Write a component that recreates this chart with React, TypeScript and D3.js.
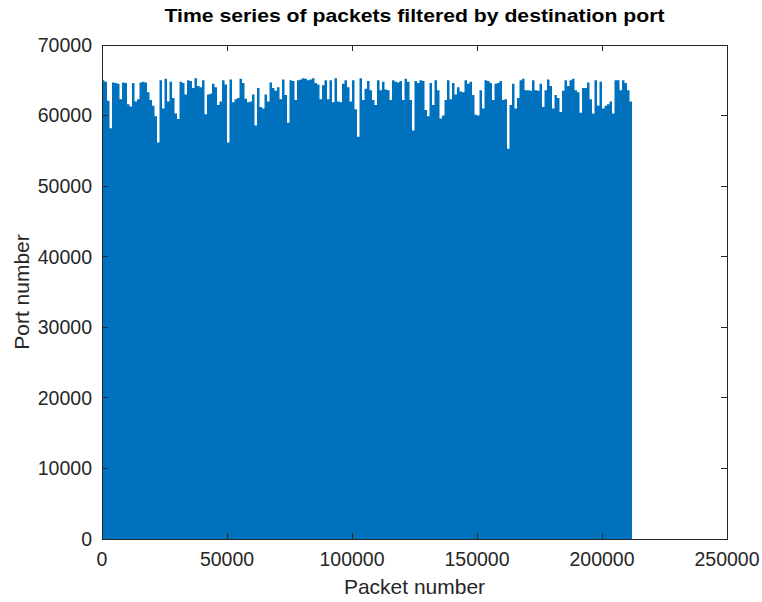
import React from "react";
import * as d3 from "d3";

// Packet bins: each entry is the highest destination port seen in a block of 1000 packets.
const binSize = 1000;
const binMaxPort: number[] = [
  65000, 64800, 62100, 58200, 64700, 64600, 64500, 62300, 64700, 64600,
  61600, 61300, 64600, 62000, 62300, 64700, 64800, 64700, 63300, 62200,
  61400, 59900, 56200, 65000, 61000, 65200, 62000, 64800, 62500, 60300,
  59500, 64800, 64600, 63000, 65000, 64900, 63900, 65300, 64200, 64000,
  65000, 60200, 63000, 63100, 64500, 64000, 61500, 62000, 65000, 64400,
  56200, 65100, 61900, 62300, 62500, 65200, 64600, 62400, 61900, 62000,
  63000, 58600, 63900, 61200, 61000, 63000, 62000, 64700, 63900, 63500,
  64000, 62300, 65100, 62900, 59000, 65000, 64900, 62200, 65000, 65100,
  65300, 65200, 65000, 65100, 65300, 64600, 64400, 62300, 64300, 65000,
  62300, 65000, 61900, 65300, 62000, 61900, 64500, 65000, 64000, 62000,
  65000, 60900, 57000, 65300, 62200, 63800, 64900, 63600, 62200, 61500,
  65000, 63600, 64800, 63700, 63600, 62200, 65000, 64800, 64700, 64900,
  62200, 65200, 64800, 62200, 57900, 64900, 64600, 65000, 64900, 60800,
  59900, 64600, 61500, 65000, 63600, 59600, 60000, 62200, 65000, 62300,
  64600, 63000, 64000, 63400, 63300, 65000, 64500, 64800, 62900, 60100,
  60000, 63600, 61000, 65000, 64900, 64600, 62200, 64500, 64600, 64900,
  62200, 62300, 55300, 61500, 64500, 61000, 62500, 65000, 65200, 63600,
  63600, 63500, 65000, 63600, 63500, 64500, 61200, 63600, 65100, 64200,
  61000, 62900, 62500, 60500, 63500, 65000, 64200, 65000, 65200, 63600,
  63300, 60400, 63900, 63900, 64700, 62300, 60300, 65000, 61400, 64800,
  61000, 61400, 61600, 62000, 60300, 65000, 65000, 63600, 65000, 64600,
  63600, 62000,
];

const xTicks = [0, 50000, 100000, 150000, 200000, 250000];
const yTicks = [0, 10000, 20000, 30000, 40000, 50000, 60000, 70000];

const title = "Time series of packets filtered by destination port";
const xLabel = "Packet number";
const yLabel = "Port number";

const W = 762;
const H = 602;
const plot = { left: 102, right: 727, top: 45, bottom: 539 };
const axisColor = "#262626";
const lineColor = "#0072BD";
const font = "'Liberation Sans', Arial, Helvetica, sans-serif";
const tickLen = 6;

export default function App() {
  const x = d3.scaleLinear().domain([0, 250000]).range([plot.left, plot.right]);
  const y = d3.scaleLinear().domain([0, 70000]).range([plot.bottom, plot.top]);

  const points: [number, number][] = binMaxPort.map((v, i) => [i * binSize, v]);
  points.push([binMaxPort.length * binSize, binMaxPort[binMaxPort.length - 1]]);

  const area = d3
    .area<[number, number]>()
    .x((d) => x(d[0]))
    .y0(y(0))
    .y1((d) => y(d[1]))
    .curve(d3.curveStepAfter);

  return (
    <svg
      width={W}
      height={H}
      style={{ position: "absolute", left: 0, top: 0, background: "#fff" }}
      fontFamily={font}
    >
      <rect x={0} y={0} width={W} height={H} fill="#fff" />
      <path d={area(points) ?? ""} fill={lineColor} />

      {/* axes box */}
      <rect
        x={plot.left}
        y={plot.top}
        width={plot.right - plot.left}
        height={plot.bottom - plot.top}
        fill="none"
        stroke={axisColor}
        strokeWidth={1}
        shapeRendering="crispEdges"
      />

      {xTicks.map((t) => (
        <g key={"x" + t}>
          <line x1={x(t)} x2={x(t)} y1={plot.bottom} y2={plot.bottom - tickLen} stroke={axisColor} shapeRendering="crispEdges" />
          <line x1={x(t)} x2={x(t)} y1={plot.top} y2={plot.top + tickLen} stroke={axisColor} shapeRendering="crispEdges" />
          <text x={x(t)} y={plot.bottom + 27} textAnchor="middle" fontSize={19.5} fill={axisColor}>
            {t}
          </text>
        </g>
      ))}

      {yTicks.map((t) => (
        <g key={"y" + t}>
          <line x1={plot.left} x2={plot.left + tickLen} y1={y(t)} y2={y(t)} stroke={axisColor} shapeRendering="crispEdges" />
          <line x1={plot.right} x2={plot.right - tickLen} y1={y(t)} y2={y(t)} stroke={axisColor} shapeRendering="crispEdges" />
          <text x={plot.left - 10} y={y(t)} dy="0.35em" textAnchor="end" fontSize={19.5} fill={axisColor}>
            {t}
          </text>
        </g>
      ))}

      <text
        x={(plot.left + plot.right) / 2}
        y={22}
        textAnchor="middle"
        fontSize={19}
        fontWeight="bold"
        fill="#000"
        textLength={500}
        lengthAdjust="spacingAndGlyphs"
      >
        {title}
      </text>
      <text x={(plot.left + plot.right) / 2} y={594} textAnchor="middle" fontSize={21} fill={axisColor}>
        {xLabel}
      </text>
      <text
        transform={`translate(29, ${(plot.top + plot.bottom) / 2}) rotate(-90)`}
        textAnchor="middle"
        fontSize={21}
        fill={axisColor}
      >
        {yLabel}
      </text>
    </svg>
  );
}
